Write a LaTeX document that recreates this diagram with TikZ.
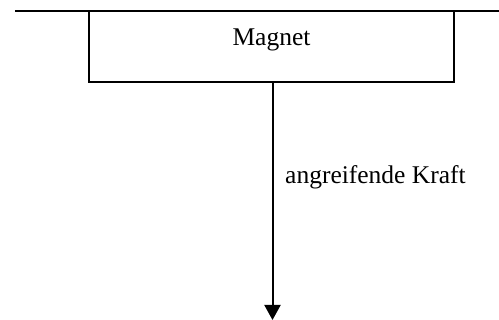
\documentclass[tikz,border=0pt]{standalone}
\usepackage{fontspec}
\setmainfont{Liberation Serif}
\usetikzlibrary{arrows.meta}
\begin{document}
\begin{tikzpicture}[x=1pt,y=1pt,
  ln/.style={line width=2pt},
  txt/.style={font=\fontsize{25.5}{30}\selectfont,inner sep=0pt},
  box/.style={ln,draw,minimum width=365pt,minimum height=71pt,inner sep=0pt},
  lbl/.style={txt,anchor=base west}]
\useasboundingbox (0,0) rectangle (499,320);
\coordinate (L) at (15,309);
\coordinate (R) at (499,309);
\draw[ln] (L) -- (R);
\node[box] (mag) at (271.5,273.5) {};
\node[txt,anchor=base] (t) at (271.5,274) {Magnet};
\coordinate (tip) at (272.5,0);
\draw[ln,-{Triangle[length=15pt,width=16pt]}] (mag.south -| tip) -- (tip);
\node[lbl] (k) at (285,136) {angreifende Kraft};
\end{tikzpicture}
\end{document}
